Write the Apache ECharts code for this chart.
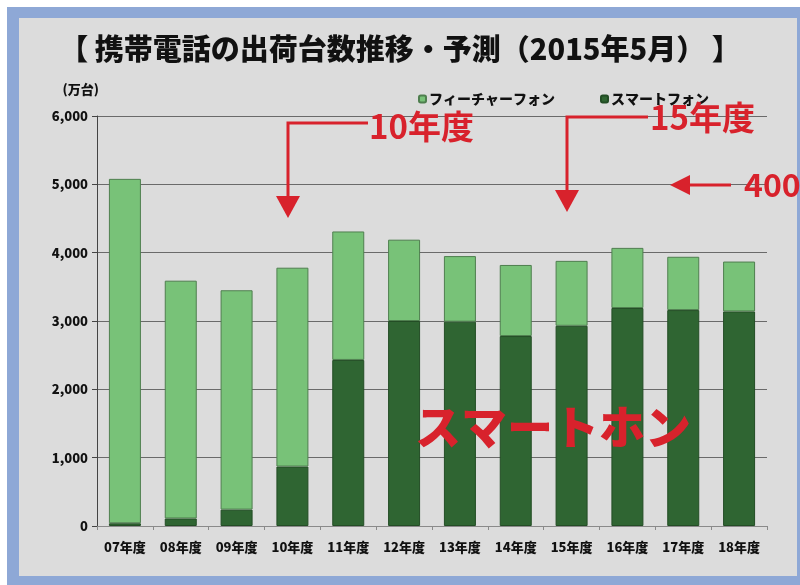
<!DOCTYPE html>
<html><head><meta charset="utf-8">
<script src="https://cdn.jsdelivr.net/npm/echarts@6/dist/echarts.min.js"></script>
<style>html,body{margin:0;padding:0;background:#fff}#c{width:800px;height:585px}</style>
</head><body><div id="c"></div>
<script>
const categories = ['07年度','08年度','09年度','10年度','11年度','12年度','13年度','14年度','15年度','16年度','17年度','18年度'];
const smartphone = [40, 110, 240, 870, 2430, 3000, 2990, 2780, 2930, 3190, 3160, 3140];
const featurephone = [5040, 3480, 3210, 2910, 1880, 1190, 960, 1040, 950, 880, 780, 730];
const yTicks = [0, 1000, 2000, 3000, 4000, 5000, 6000];
const titleText = '【 携帯電話の出荷台数推移・予測（2015年5月） 】';

const FONT = '"Noto Sans CJK JP", "Noto Sans", sans-serif';
const RED = '#d8222c';
const chart = echarts.init(document.getElementById('c'), null, {renderer: 'canvas'});

chart.setOption({
  backgroundColor: '#ffffff',
  animation: false,
  title: {
    text: titleText, left: 'center', top: 29,
    textStyle: {fontFamily: FONT, fontSize: 29, fontWeight: 900, color: '#111'}
  },
  legend: [
    {data: ['フィーチャーフォン'], left: 413, top: 87, itemWidth: 7, itemHeight: 7, itemGap: 4,
     textStyle: {fontFamily: FONT, fontSize: 14, fontWeight: 900, color: '#111', padding: [0,0,0,-2]}},
    {data: ['スマートフォン'], left: 595, top: 87, itemWidth: 7, itemHeight: 7, itemGap: 4,
     textStyle: {fontFamily: FONT, fontSize: 14, fontWeight: 900, color: '#111', padding: [0,0,0,-2]}}
  ],
  grid: {left: 97, right: 33, top: 116, bottom: 59, containLabel: false},
  xAxis: {
    type: 'category', data: categories,
    axisLine: {show: true, lineStyle: {color: '#8a8a8a', width: 1}},
    axisTick: {show: true, length: 4, lineStyle: {color: '#8a8a8a'}},
    axisLabel: {margin: 15, fontFamily: FONT, fontSize: 13, fontWeight: 900, color: '#111'}
  },
  yAxis: {
    type: 'value', min: yTicks[0], max: yTicks[yTicks.length-1], interval: 1000,
    name: '(万台)', nameLocation: 'end', nameGap: 20,
    nameTextStyle: {fontFamily: FONT, fontSize: 13, fontWeight: 900, color: '#111', align: 'right', padding: [0, -2, 0, 0]},
    axisLine: {show: true, lineStyle: {color: '#444', width: 1}},
    axisTick: {show: true, length: 5, lineStyle: {color: '#444'}},
    axisLabel: {margin: 9, fontFamily: FONT, fontSize: 13, fontWeight: 900, color: '#111',
      formatter: v => v.toLocaleString('en-US')},
    splitLine: {show: true, lineStyle: {color: '#6a6a6a', width: 1}}
  },
  series: [
    {name: 'スマートフォン', type: 'bar', stack: 'total', data: smartphone, barWidth: 32,
     itemStyle: {color: '#2f6532', borderColor: '#234d25', borderWidth: 1}},
    {name: 'フィーチャーフォン', type: 'bar', stack: 'total', data: featurephone, barWidth: 32,
     itemStyle: {color: '#78c278', borderColor: '#4f7f4f', borderWidth: 1}}
  ],
  graphic: [
    {type: 'rect', z: -100, silent: true, shape: {x: 7, y: 7, width: 793, height: 578}, style: {fill: '#8ea8d6'}},
    {type: 'rect', z: -99, silent: true, shape: {x: 19, y: 18, width: 778, height: 558}, style: {fill: '#dcdcdc'}},
    // 10年度 annotation
    {type: 'polyline', z: 50, shape: {points: [[368, 123], [288, 123], [288, 202]]}, style: {stroke: RED, lineWidth: 3, fill: null}},
    {type: 'polygon', z: 50, shape: {points: [[276, 196], [300, 196], [288, 218]]}, style: {fill: RED}},
    {type: 'text', z: 50, style: {text: '10年度', x: 369, y: 126, fill: RED, font: '600 33px ' + FONT, textVerticalAlign: 'middle', verticalAlign: 'middle'}},
    // 15年度 annotation
    {type: 'polyline', z: 50, shape: {points: [[648, 117], [567, 117], [567, 196]]}, style: {stroke: RED, lineWidth: 3, fill: null}},
    {type: 'polygon', z: 50, shape: {points: [[555, 190], [579, 190], [567, 212]]}, style: {fill: RED}},
    {type: 'text', z: 50, style: {text: '15年度', x: 650, y: 117, fill: RED, font: '600 33px ' + FONT, textVerticalAlign: 'middle', verticalAlign: 'middle'}},
    // 400 arrow
    {type: 'line', z: 50, shape: {x1: 684, y1: 185, x2: 731, y2: 185}, style: {stroke: RED, lineWidth: 3}},
    {type: 'polygon', z: 50, shape: {points: [[670, 185], [690, 175], [690, 195]]}, style: {fill: RED}},
    {type: 'text', z: 50, style: {text: '400', x: 744, y: 185, fill: RED, font: '600 32px ' + FONT, textVerticalAlign: 'middle', verticalAlign: 'middle'}},
    // スマートホン
    {type: 'text', z: 50, style: {text: 'スマートホン', x: 415, y: 427, fill: RED, font: '900 46px ' + FONT, textVerticalAlign: 'middle', verticalAlign: 'middle'}}
  ]
});
</script>
</body></html>
